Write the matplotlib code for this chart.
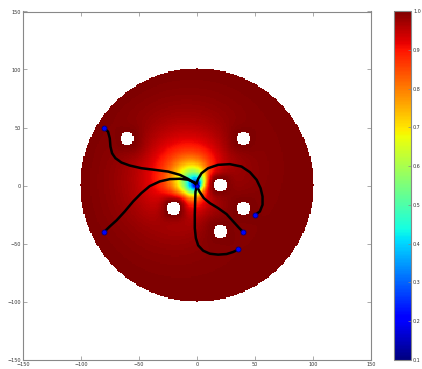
import numpy as np
import matplotlib
matplotlib.use('Agg')
import matplotlib.pyplot as plt

# ---- data ----
goal_x, goal_y = 0.0, 0.0
arena_radius = 100.0
obstacle_x = [-60, 40, 20, -20, 40, 20]
obstacle_y = [40, 40, 0, -20, -20, -40]
obstacle_half = 5.2
start_x = [-80, -80, 50, 40, 35]
start_y = [50, -40, -25, -40, -55]

path1_x = [-80.4, -76.7, -75.2, -74.6, -73.2, -70.3, -65.1, -58.0, -47.9, -36.4, -24.9, -14.8, -7.7, -1.9, 0.0]
path1_y = [49.9, 46.4, 40.7, 33.5, 27.8, 23.5, 19.8, 17.2, 14.9, 13.5, 12.0, 9.2, 5.7, 2.0, 0.0]
path2_x = [-80.0, -75.2, -69.4, -62.3, -55.1, -47.9, -40.7, -32.1, -23.4, -14.8, -7.7, -1.9, 0.0]
path2_y = [-40.0, -35.3, -30.1, -22.4, -13.8, -6.5, -0.5, 3.5, 5.5, 5.8, 5.0, 2.5, 0.0]
path3_x = [50.2, 54.2, 56.5, 56.5, 54.8, 51.4, 45.6, 38.4, 28.3, 18.2, 9.6, 3.9, 1.0, -0.4, 0.0]
path3_y = [-25.2, -22.4, -16.6, -9.5, -2.3, 4.9, 11.5, 16.3, 18.4, 17.8, 14.9, 10.6, 5.7, 2.0, 0.0]
path4_x = [39.8, 36.4, 31.2, 25.5, 18.2, 11.1, 5.9, 2.4, 0.1, 0.0]
path4_y = [-40.1, -36.7, -31.0, -24.7, -19.5, -15.2, -10.9, -5.7, -0.9, 0.0]
path5_x = [35.5, 31.2, 25.5, 18.2, 11.1, 5.3, 1.0, -1.0, -1.9, -1.9, -1.6, -1.3, 0.0]
path5_y = [-55.3, -57.3, -59.1, -59.6, -58.8, -56.2, -51.6, -45.3, -36.7, -25.2, -13.8, -5.2, 0.0]

axis_ticks = [-150, -100, -50, 0, 50, 100, 150]
cbar_ticks = [0.1, 0.2, 0.3, 0.4, 0.5, 0.6, 0.7, 0.8, 0.9, 1.0]

# ---- potential field ----
g = np.arange(-100, 101, 1.0)
X, Y = np.meshgrid(g, g)
R = np.hypot(X - goal_x, Y - goal_y)
TH = np.arctan2(Y - goal_y, X - goal_x)
r0 = 15.0 * (1 + 0.45 * np.cos(TH - np.deg2rad(145)))
r0 = r0 * np.sqrt(np.clip(1 - (X ** 2 + Y ** 2) / arena_radius ** 2, 0, None))
mask = X ** 2 + Y ** 2 > arena_radius ** 2
for ox, oy in zip(obstacle_x, obstacle_y):
    sq = (np.abs(X - ox) ** 3 + np.abs(Y - oy) ** 3) ** (1 / 3)
    mask |= sq <= obstacle_half
    r0 = r0 * (1 - np.exp(-np.clip(sq - obstacle_half, 0, None) / 6.0))
phi = R / np.sqrt(R ** 2 + r0 ** 2 + 1e-9)
V = 0.1 + 0.9 * phi
V = np.ma.array(V, mask=mask)

fig = plt.figure(figsize=(4.22, 3.69), dpi=100)
ax = fig.add_axes([23 / 422, 1 - 360 / 369, 348 / 422, 349 / 369])
cax = fig.add_axes([394 / 422, 1 - 360 / 369, 17 / 422, 349 / 369])

im = ax.imshow(V, cmap='jet', vmin=0.1, vmax=1.0, origin='lower',
               extent=[-100.5, 100.5, -100.5, 100.5], interpolation='nearest')

for px, py in [(path1_x, path1_y), (path2_x, path2_y), (path3_x, path3_y),
               (path4_x, path4_y), (path5_x, path5_y)]:
    ax.plot(px, py, color='black', lw=1.8, solid_capstyle='round', solid_joinstyle='round')
ax.plot(start_x, start_y, 'o', color='#0000ff', mec='#000080', ms=3.6, mew=0.6, ls='none')
ax.plot([goal_x], [goal_y], 'o', color='#0000ff', mec='#000080', ms=2.6, mew=0.6)

ax.set_xlim(-150, 150)
ax.set_ylim(-150, 150)
ax.set_xticks(axis_ticks)
ax.set_yticks(axis_ticks)
ax.tick_params(direction='in', length=3, width=0.5, color='#888888', labelsize=3.5,
               top=True, right=True, labelcolor='#333333', pad=1.5)
for s in ax.spines.values():
    s.set_color('#888888')
    s.set_linewidth(0.8)

cb = fig.colorbar(im, cax=cax, ticks=cbar_ticks)
cb.ax.set_yticklabels([f'{t:.1f}' for t in cbar_ticks])
cb.ax.tick_params(direction='in', length=2, width=0.5, color='#888888', labelsize=3.5,
                  labelcolor='#333333', pad=1.5)
cb.outline.set_edgecolor('#888888')
cb.outline.set_linewidth(0.8)

fig.savefig('out.png', dpi=100)
